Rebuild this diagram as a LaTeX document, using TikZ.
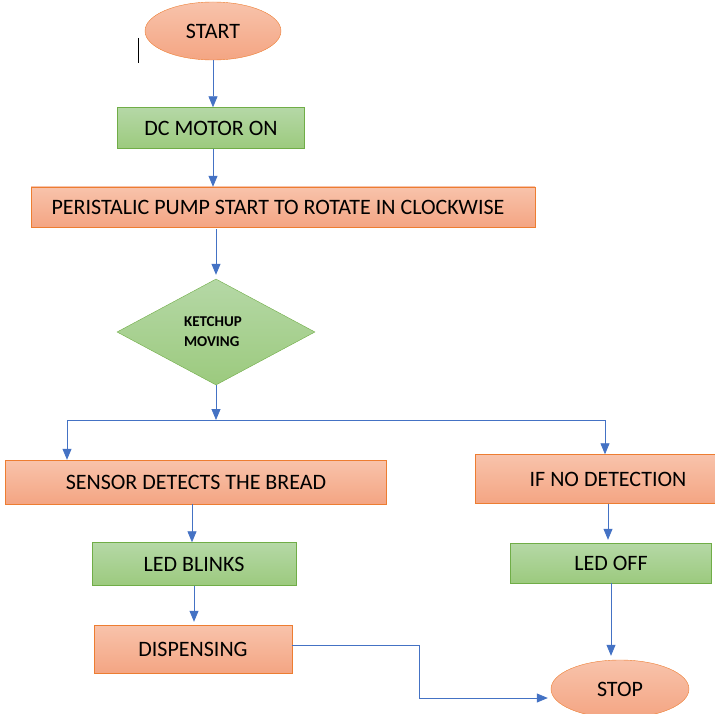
\documentclass[tikz,border=0pt]{standalone}
\usepackage{fontspec}
\setmainfont{Carlito}
\usetikzlibrary{arrows.meta,shapes.geometric}
\definecolor{orangeline}{HTML}{ED7D31}
\definecolor{orangetop}{HTML}{F8C3AB}
\definecolor{orangebot}{HTML}{F4A583}
\definecolor{greenline}{HTML}{70AD47}
\definecolor{greentop}{HTML}{B5D8A6}
\definecolor{greenbot}{HTML}{9CCA7E}
\definecolor{arrowblue}{HTML}{4472C4}
\tikzset{
  orangebox/.style={draw=orangeline, top color=orangetop, bottom color=orangebot, inner sep=0pt, font=\fontsize{22}{26}\selectfont},
  greenbox/.style={draw=greenline, top color=greentop, bottom color=greenbot, inner sep=0pt, font=\fontsize{22}{26}\selectfont},
  terminal/.style={orangebox, ellipse},
  decision/.style={greenbox, diamond, align=left, font=\fontsize{15}{20}\selectfont\bfseries},
  flowline/.style={draw=arrowblue, line width=0.8pt},
  flowarrow/.style={flowline, -{Triangle[width=9pt,length=11pt]}}
}
\begin{document}
\begin{tikzpicture}[x=1pt,y=-1pt]
\useasboundingbox (0,0) rectangle (715,714);
% nodes
\node[terminal, minimum width=136pt, minimum height=58pt] (start) at (213,31) {START};
\node[greenbox, minimum width=187pt, minimum height=41pt] (dcmotor) at (211,128) {DC MOTOR ON};
\node[orangebox, minimum width=504pt, minimum height=40pt] (pump) at (283,207) {\hspace*{-10pt}PERISTALIC PUMP START TO ROTATE IN CLOCKWISE};
\node[decision, minimum width=198pt, minimum height=106pt] (ketchup) at (216,332) {\hspace*{-6pt}KETCHUP\\\hspace*{-6pt}MOVING};
\node[orangebox, minimum width=381pt, minimum height=44pt] (sensor) at (196,482) {SENSOR DETECTS THE BREAD};
\node[orangebox, minimum width=242pt, minimum height=49pt] (nodetect) at (596,479) {\hspace*{24pt}IF NO DETECTION};
\node[greenbox, minimum width=204pt, minimum height=43pt] (ledblink) at (194,564) {LED BLINKS};
\node[greenbox, minimum width=201pt, minimum height=40pt] (ledoff) at (611,563) {LED OFF};
\node[orangebox, minimum width=198pt, minimum height=48pt] (dispense) at (193,649) {DISPENSING};
\node[terminal, minimum width=138pt, minimum height=58pt] (stop) at (620,689) {STOP};
% stray cursor mark
\draw[line width=0.6pt] (138,38) -- (138,63);
% connectors
\coordinate (split) at (216,420);
\coordinate (lbranch) at (67,420);
\coordinate (rbranch) at (605,420);
\coordinate (bend) at (419,698);
\draw[flowarrow] (start.south) -- (start.south |- dcmotor.north);
\draw[flowarrow] ([xshift=2pt]dcmotor.south) -- ([xshift=2pt]dcmotor.south |- pump.north);
\draw[flowarrow, shorten <=2pt, shorten >=4pt] (ketchup.north |- pump.south) -- (ketchup.north);
\draw[flowarrow] (ketchup.south) -- (split);
\draw[flowline] (lbranch) -- (rbranch);
\draw[flowarrow] (lbranch) -- (lbranch |- sensor.north);
\draw[flowarrow] (rbranch) -- (rbranch |- nodetect.north);
\draw[flowarrow] ([xshift=-4pt]sensor.south) -- ([xshift=-4pt]sensor.south |- ledblink.north);
\draw[flowarrow, shorten >=3pt] (ledblink.south) -- (ledblink.south |- dispense.north);
\draw[flowarrow, shorten >=3pt] ([xshift=-3pt]ledoff.north |- nodetect.south) -- ([xshift=-3pt]ledoff.north);
\draw[flowarrow, shorten >=4pt] (ledoff.south) -- (ledoff.south |- stop.north);
\draw[flowarrow, shorten >=3pt] ([yshift=4pt]dispense.east) -| (bend) -- ([yshift=-9pt]stop.west);
\end{tikzpicture}
\end{document}
